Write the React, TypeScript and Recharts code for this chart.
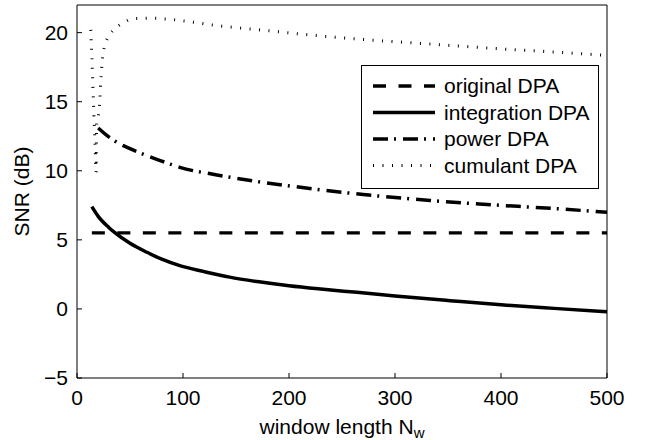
import { LineChart, Line, XAxis, YAxis, Legend } from 'recharts'

const FONT = '"Liberation Sans", Arial, Helvetica, sans-serif'

const xTicks = [0, 100, 200, 300, 400, 500]
const yTicks = [-5, 0, 5, 10, 15, 20]

// window length N_w and SNR (dB)
const originalN = [14, 500]
const originalSnr = [5.5, 5.5]

const integrationN = [14, 20, 30, 36, 50, 66, 80, 97, 120, 144, 170, 200, 230, 264, 300, 352, 400, 450, 500]
const integrationSnr = [7.4, 6.7, 5.9, 5.5, 4.75, 4.1, 3.6, 3.13, 2.7, 2.3, 1.98, 1.68, 1.44, 1.2, 0.94, 0.6, 0.3, 0.04, -0.2]

const powerN = [20, 30, 40, 50, 64, 80, 97, 132, 166, 201, 234, 270, 333, 383, 449, 500]
const powerSnr = [13.1, 12.45, 11.95, 11.6, 11.15, 10.7, 10.25, 9.7, 9.27, 8.9, 8.58, 8.28, 7.85, 7.58, 7.27, 7.0]

const cumulantN = [13, 14, 15, 16, 17, 18, 18.6, 20.7, 21.7, 22.4, 23.3, 24.5, 26.4, 31, 36, 43.4, 53, 70, 89, 133, 179, 224, 270, 314, 360, 405, 450, 500]
const cumulantSnr = [20.2, 18.2, 16.1, 14.0, 12.0, 9.9, 13.4, 14.3, 15.3, 16.4, 17.5, 18.4, 19.1, 19.85, 20.3, 20.7, 21.0, 21.05, 20.95, 20.5, 20.15, 19.8, 19.5, 19.27, 19.03, 18.8, 18.6, 18.35]

const toRows = (n: number[], snr: number[]) => n.map((v, i) => ({ n: v, snr: snr[i] }))

const series = [
  { name: 'original DPA', data: toRows(originalN, originalSnr), width: 3.3, dash: '13 12.5' },
  { name: 'integration DPA', data: toRows(integrationN, integrationSnr), width: 3.5, dash: undefined },
  { name: 'power DPA', data: toRows(powerN, powerSnr), width: 3.5, dash: '15 6 2 7' },
  { name: 'cumulant DPA', data: toRows(cumulantN, cumulantSnr), width: 3, dash: '1 8.5' },
]

function LegendBox() {
  return (
    <svg width={238} height={124} style={{ display: 'block' }}>
      <rect x={0.5} y={0.5} width={237} height={123} fill="#fff" stroke="#000" />
      {series.map((s, i) => {
        const y = 21 + i * 26.5
        return (
          <g key={s.name}>
            <line x1={12} x2={74} y1={y} y2={y} stroke="#000" strokeWidth={s.width} strokeDasharray={s.dash} />
            <text x={83} y={y} dy="0.35em" fontSize={21} fontFamily={FONT} fill="#000">
              {s.name}
            </text>
          </g>
        )
      })}
    </svg>
  )
}

const xLabel = (props: any) => {
  const vb = props.viewBox
  return (
    <text x={vb.x + vb.width / 2} y={vb.y + 55.5} textAnchor="middle" fontSize={21} fontFamily={FONT} fill="#000">
      window length N
      <tspan fontSize={15} dy={4}>w</tspan>
    </text>
  )
}

const yLabel = (props: any) => {
  const vb = props.viewBox
  const cx = vb.x + 22
  const cy = vb.y + vb.height / 2
  return (
    <text x={cx} y={cy} dy="0.35em" textAnchor="middle" fontSize={21} fontFamily={FONT} fill="#000" transform={`rotate(-90 ${cx} ${cy})`}>
      SNR (dB)
    </text>
  )
}

const tickStyle = { fill: '#000', fontSize: 21, fontFamily: FONT }

export default function App() {
  return (
    <div style={{ position: 'absolute', left: 0, top: 0, background: '#fff' }}>
      <LineChart width={647} height={440} margin={{ top: 4, right: 39, bottom: 0, left: 0 }}>
        <XAxis
          xAxisId="b"
          dataKey="n"
          type="number"
          domain={[0, 500]}
          ticks={xTicks}
          height={62}
          stroke="#000"
          tickSize={-5}
          tickMargin={17}
          tick={tickStyle}
          label={xLabel}
        />
        <XAxis xAxisId="t" orientation="top" type="number" domain={[0, 500]} ticks={xTicks} height={1} stroke="#000" tickSize={-5} tick={false} />
        <YAxis
          yAxisId="l"
          type="number"
          domain={[-5, 22]}
          ticks={yTicks}
          width={77}
          stroke="#000"
          tickSize={-5}
          tickMargin={14}
          tick={tickStyle}
          tickFormatter={(v: number) => String(v).replace('-', '\u2212')}
          label={yLabel}
        />
        <YAxis yAxisId="r" orientation="right" type="number" domain={[-5, 22]} ticks={yTicks} width={1} stroke="#000" tickSize={-5} tick={false} />
        {series.map((s) => (
          <Line
            key={s.name}
            name={s.name}
            xAxisId="b"
            yAxisId="l"
            data={s.data}
            dataKey="snr"
            type="monotone"
            stroke="#000"
            strokeWidth={s.width}
            strokeDasharray={s.dash}
            dot={false}
            activeDot={false}
            isAnimationActive={false}
          />
        ))}
        <Legend
          layout="vertical"
          align="center"
          verticalAlign="middle"
          content={<LegendBox />}
          wrapperStyle={{ left: 361, top: 65, width: 238, height: 124 }}
        />
      </LineChart>
    </div>
  )
}
